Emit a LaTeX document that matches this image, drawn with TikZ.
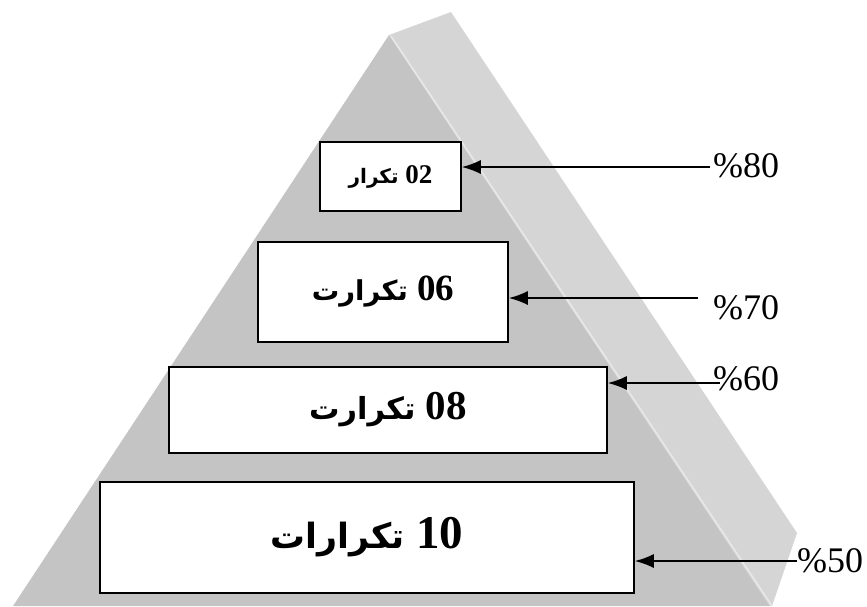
\documentclass[tikz,border=0pt]{standalone}
\usepackage{fontspec}
\setmainfont{Liberation Serif}
\newfontfamily\arabicfont[Script=Arabic, Scale=0.74]{DejaVu Sans}
\TeXXeTstate=1
\usepackage{xcolor}
\usetikzlibrary{shapes,arrows,arrows.meta}
\definecolor{frontgray}{HTML}{C4C4C4}
\definecolor{sidegray}{HTML}{D5D5D5}
\definecolor{ridgegray}{HTML}{E8E8E8}
\tikzstyle{line} = [draw, line width=1.8pt, -{Latex[length=19pt,width=14pt]}]
\tikzstyle{level} = [draw, fill=white, line width=1.5pt, inner sep=0pt]
\tikzstyle{pct} = [anchor=base west, inner sep=0pt, font=\fontsize{36}{36}\selectfont]

\begin{document}
\begin{tikzpicture}[x=1pt, y=-1pt]
    \useasboundingbox (0,0) rectangle (867,606);
    % Pyramid faces
    \fill [frontgray] (389,35) -- (770,606) -- (13,606) -- cycle;
    \fill [sidegray] (389,35) -- (451,12) -- (797,533) -- (772,606) -- (770,606) -- cycle;
    \draw [ridgegray, line width=1.5pt] (391,36) -- (772,606);

    % Place nodes
    \node [level, minimum width=141pt, minimum height=69pt,
           font=\bfseries\fontsize{27}{27}\selectfont] (b02) at (390.5,176.5)
          {{\arabicfont\beginR تكرار\endR}\ 02};
    \node [level, minimum width=250pt, minimum height=100pt,
           font=\bfseries\fontsize{37}{37}\selectfont] (b06) at (383,292)
          {{\arabicfont\beginR تكرارت\endR}\ 06};
    \node [level, minimum width=438pt, minimum height=86pt,
           font=\bfseries\fontsize{41}{41}\selectfont] (b08) at (388,410)
          {{\arabicfont\beginR تكرارت\endR}\ 08};
    \node [level, minimum width=534pt, minimum height=111pt,
           font=\bfseries\fontsize{47}{47}\selectfont] (b10) at (367,537.5)
          {{\arabicfont\beginR تكرارات\endR}\ 10};

    \node [pct] (p80) at (713,177) {\%80};
    \node [pct] (p70) at (713,319) {\%70};
    \node [pct] (p60) at (713,390) {\%60};
    \node [pct] (p50) at (797,572) {\%50};

    \coordinate (t80) at (710,167);
    \coordinate (t70) at (698,298);
    \coordinate (t60) at (720,383);
    \coordinate (t50) at (797,561);

    \path [line] (t80) -- (t80 -| b02.east);
    \path [line] (t70) -- (t70 -| b06.east);
    \path [line] (t60) -- (t60 -| b08.east);
    \path [line] (t50) -- (t50 -| b10.east);

\end{tikzpicture}
\end{document}
